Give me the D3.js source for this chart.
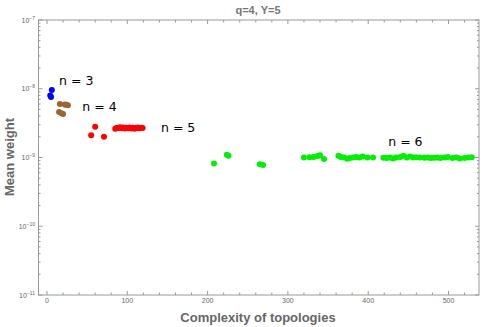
<!DOCTYPE html>
<html>
<head>
<meta charset="utf-8">
<script src="https://cdn.jsdelivr.net/npm/d3@7"></script>
<style>
  body { margin: 0; background: #fff; }
  text { font-family: "Liberation Sans", Arial, sans-serif; }
</style>
</head>
<body>
<svg id="chart" width="487" height="327"></svg>
<script>
// data
var n3 = [[6, 9.6e-9], [4, 8.0e-9], [5, 7.6e-9]];
var n4 = [[16, 6.0e-9], [22, 5.9e-9], [24, 5.85e-9], [26, 5.75e-9], [15, 4.6e-9], [18, 4.4e-9], [20, 4.3e-9]];
var n5 = [[60, 2.8e-9], [55, 2.1e-9], [71, 2.0e-9],
  [85, 2.62e-9], [87, 2.7e-9], [89, 2.68e-9], [91, 2.75e-9], [93, 2.66e-9], [95, 2.72e-9],
  [97, 2.64e-9], [99, 2.7e-9], [101, 2.66e-9], [103, 2.73e-9], [105, 2.65e-9], [107, 2.7e-9],
  [109, 2.62e-9], [111, 2.68e-9], [113, 2.72e-9], [115, 2.66e-9], [117, 2.7e-9], [119, 2.68e-9]];
var n6 = [[208, 8.2e-10], [224, 1.1e-9], [226, 1.06e-9], [265, 8.0e-10], [269, 7.8e-10],
  [320, 1.0e-9], [327, 1.01e-9], [332, 1.02e-9], [337, 1.05e-9], [340, 1.08e-9], [345, 0.95e-9],
  [363, 1.06e-9], [366, 1.02e-9], [370, 1.0e-9], [374, 0.96e-9], [377, 0.98e-9], [381, 1.0e-9],
  [385, 1.02e-9], [389, 1.0e-9], [393, 1.03e-9], [399, 1.0e-9], [406, 1.0e-9],
  [419, 0.99e-9], [423, 0.98e-9], [427, 1.0e-9], [431, 0.97e-9], [435, 1.0e-9], [440, 1.02e-9],
  [444, 1.06e-9], [448, 1.0e-9], [452, 1.03e-9], [456, 1.0e-9], [460, 1.01e-9], [464, 1.0e-9],
  [470, 0.99e-9], [474, 1.0e-9], [478, 0.98e-9], [482, 0.99e-9], [486, 1.0e-9], [490, 0.98e-9],
  [495, 1.0e-9], [499, 1.02e-9], [505, 0.98e-9], [510, 1.0e-9], [514, 0.97e-9], [520, 0.98e-9],
  [525, 1.0e-9], [529, 1.01e-9]];
var groups = [
  { name: "n = 3", pts: n3, color: "#0000ff", label: [15, 1.27e-8] },
  { name: "n = 4", pts: n4, color: "#996633", label: [44, 5.42e-9] },
  { name: "n = 5", pts: n5, color: "#ff0000", label: [142, 2.68e-9] },
  { name: "n = 6", pts: n6, color: "#00ee00", label: [425, 1.65e-9] }
];
var xMajor = [0, 100, 200, 300, 400, 500];
var yMajor = [-11, -10, -9, -8, -7];

var svg = d3.select("#chart");
var pL = 38.5, pR = 479, pT = 20, pB = 295;
var x = d3.scaleLinear().domain([-10.6, 538]).range([pL, pR]);
var y = d3.scaleLog().domain([1e-11, 1e-7]).range([pB, pT]);
var gray = "#999";

// frame
svg.append("rect").attr("x", pL).attr("y", pT).attr("width", pR - pL).attr("height", pB - pT)
  .attr("fill", "none").attr("stroke", gray).attr("stroke-width", 1);

// x ticks, bottom and top
var xMinor = d3.range(0, 540, 20);
xMinor.forEach(v => {
  var len = v % 100 === 0 ? 4 : 2.5;
  svg.append("line").attr("x1", x(v)).attr("x2", x(v)).attr("y1", pB).attr("y2", pB - len).attr("stroke", gray);
  svg.append("line").attr("x1", x(v)).attr("x2", x(v)).attr("y1", pT).attr("y2", pT + len).attr("stroke", gray);
});
svg.selectAll(".xl").data(xMajor).join("text")
  .attr("x", d => x(d)).attr("y", 303).attr("text-anchor", "middle")
  .attr("font-size", 7).attr("fill", "#666").text(d => d);

// y ticks, log minor
yMajor.forEach(e => {
  for (var m = 1; m < 10; m++) {
    var v = m * Math.pow(10, e);
    if (v > 1.0001e-7) break;
    var len = m === 1 ? 4 : 2;
    svg.append("line").attr("x1", pL).attr("x2", pL + len).attr("y1", y(v)).attr("y2", y(v)).attr("stroke", gray);
    svg.append("line").attr("x1", pR).attr("x2", pR - len).attr("y1", y(v)).attr("y2", y(v)).attr("stroke", gray);
  }
});
var yl = svg.selectAll(".yl").data(yMajor).join("text")
  .attr("x", 35).attr("y", d => y(Math.pow(10, d)) + 2.5).attr("text-anchor", "end")
  .attr("font-size", 7).attr("fill", "#666");
yl.append("tspan").text("10");
yl.append("tspan").attr("dy", -3).attr("font-size", 5).text(d => "\u2212" + (-d));

// points
groups.forEach(g => {
  svg.append("g").selectAll("circle").data(g.pts).join("circle")
    .attr("cx", d => x(d[0])).attr("cy", d => y(d[1])).attr("r", 3)
    .attr("fill", g.color);
  svg.append("text").attr("x", x(g.label[0])).attr("y", y(g.label[1]))
    .attr("dominant-baseline", "middle").attr("font-size", 12.5)
    .style("font-family", "'DejaVu Sans', sans-serif").attr("fill", "#000")
    .text(g.name);
});

// titles
svg.append("text").attr("x", 258).attr("y", 14).attr("text-anchor", "middle")
  .attr("font-size", 11).attr("font-weight", "bold").attr("fill", "#777").text("q=4, Y=5");
svg.append("text").attr("x", 258).attr("y", 322).attr("text-anchor", "middle")
  .attr("font-size", 13).attr("font-weight", "bold").attr("fill", "#666").text("Complexity of topologies");
svg.append("text").attr("transform", "translate(14,157) rotate(-90)").attr("text-anchor", "middle")
  .attr("font-size", 13).attr("font-weight", "bold").attr("fill", "#666").text("Mean weight");
</script>
</body>
</html>
